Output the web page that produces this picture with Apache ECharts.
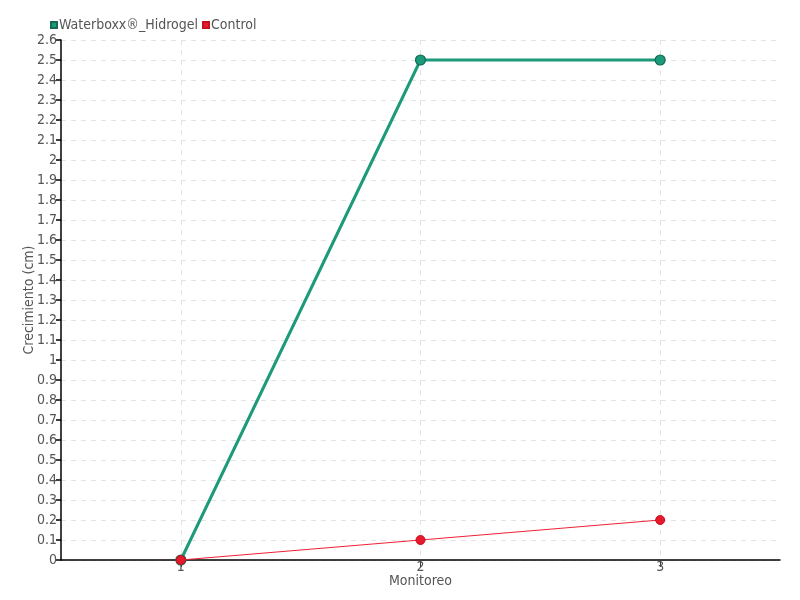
<!DOCTYPE html>
<html><head><meta charset="utf-8">
<script src="https://cdn.jsdelivr.net/npm/echarts@6/dist/echarts.min.js"></script>
<style>html,body{margin:0;padding:0;background:#fff}#c{width:800px;height:600px}</style>
</head><body><div id="c"></div>
<script>
const monitoreo = [1, 2, 3];
const waterboxx = [0, 2.5, 2.5];
const control = [0, 0.1, 0.2];
const seriesNames = ['Waterboxx®_Hidrogel', 'Control'];
const FONT = "'DejaVu Sans Condensed', 'Liberation Sans Narrow', sans-serif";
const chart = echarts.init(document.getElementById('c'));
chart.setOption({
  animation: false,
  textStyle: { fontFamily: FONT },
  legend: {
    left: 45, top: 13, itemWidth: 6, itemHeight: 6, itemGap: 4,
    icon: 'rect',
    textStyle: { fontFamily: FONT, fontSize: 14, color: '#555', padding: [0, 0, 0, -3] },
    data: seriesNames
  },
  grid: { left: 61, right: 20, top: 40, bottom: 40 },
  xAxis: {
    type: 'value', min: 0.5, max: 3.5,
    name: 'Monitoreo', nameLocation: 'middle', nameGap: 14, nameMoveOverlap: false,
    nameTextStyle: { fontFamily: FONT, fontSize: 14, color: '#555', verticalAlign: 'top' },
    axisLine: { lineStyle: { color: '#000', width: 1.5 } },
    axisTick: { show: true, length: 7, lineStyle: { color: '#333', width: 1 }, customValues: monitoreo },
    axisLabel: { customValues: monitoreo, margin: 0, fontFamily: FONT, fontSize: 14, color: '#555' },
    splitLine: { show: true, lineStyle: { type: [5, 5], color: '#e3e3e3' } }
  },
  yAxis: {
    type: 'value', min: 0, max: 2.6, interval: 0.1,
    name: 'Crecimiento (cm)', nameLocation: 'middle', nameGap: 25, nameMoveOverlap: false,
    nameTextStyle: { fontFamily: FONT, fontSize: 14, color: '#555', verticalAlign: 'bottom' },
    axisLine: { show: true, lineStyle: { color: '#000', width: 1.5 } },
    axisTick: { show: true, length: 5, lineStyle: { color: '#000', width: 1.5 } },
    axisLabel: { margin: 4, fontFamily: FONT, fontSize: 14, color: '#555' },
    splitLine: { show: true, lineStyle: { type: [5, 5], color: '#e3e3e3' } }
  },
  series: [
    {
      name: seriesNames[0], type: 'line',
      data: monitoreo.map((m, i) => [m, waterboxx[i]]),
      symbol: 'circle', symbolSize: 10,
      lineStyle: { width: 3, color: '#1c9a7a' },
      itemStyle: { color: '#1c9a7a', borderColor: '#146b55', borderWidth: 1.2 },
      z: 2
    },
    {
      name: seriesNames[1], type: 'line',
      data: monitoreo.map((m, i) => [m, control[i]]),
      symbol: 'circle', symbolSize: 9,
      lineStyle: { width: 1, color: '#ee2233' },
      itemStyle: { color: '#e8192c', borderColor: '#c5101f', borderWidth: 1 },
      z: 3
    }
  ]
});
</script></body></html>
